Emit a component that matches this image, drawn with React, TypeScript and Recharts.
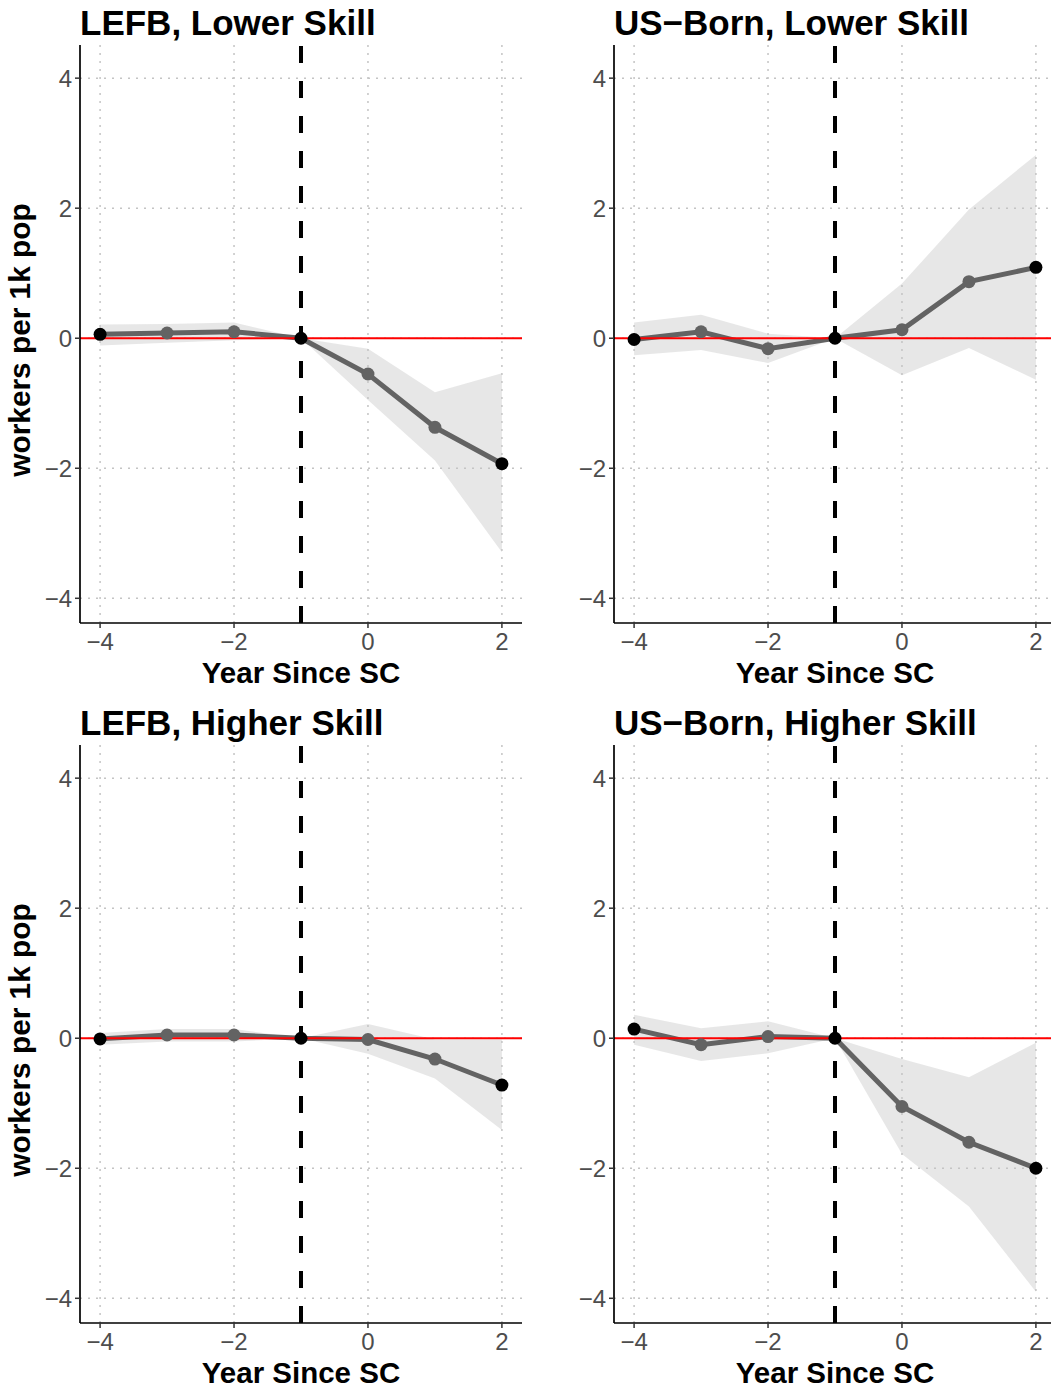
import React from "react";
import { ComposedChart, Line, Area, XAxis, YAxis, ReferenceLine } from "recharts";

const YEARS = [-4, -3, -2, -1, 0, 1, 2];
const X_TICKS = [-4, -2, 0, 2];
const Y_TICKS = [-4, -2, 0, 2, 4];
const X_DOMAIN = [-4.3, 2.3];
const Y_DOMAIN = [-4.38, 4.51];

// LEFB, Lower Skill
const LEFB_LOW_EST = [0.06, 0.08, 0.1, 0, -0.55, -1.37, -1.93];
const LEFB_LOW_LO = [-0.11, -0.07, -0.03, 0, -0.95, -1.88, -3.29];
const LEFB_LOW_HI = [0.21, 0.22, 0.24, 0, -0.16, -0.83, -0.54];

// US-Born, Lower Skill
const US_LOW_EST = [-0.02, 0.1, -0.16, 0, 0.13, 0.87, 1.09];
const US_LOW_LO = [-0.26, -0.18, -0.38, 0, -0.57, -0.15, -0.64];
const US_LOW_HI = [0.24, 0.36, 0.07, 0, 0.84, 1.98, 2.82];

// LEFB, Higher Skill
const LEFB_HIGH_EST = [-0.01, 0.05, 0.05, 0, -0.02, -0.32, -0.72];
const LEFB_HIGH_LO = [-0.1, -0.05, -0.05, 0, -0.24, -0.62, -1.41];
const LEFB_HIGH_HI = [0.08, 0.14, 0.14, 0, 0.22, -0.02, -0.02];

// US-Born, Higher Skill
const US_HIGH_EST = [0.14, -0.1, 0.025, 0, -1.05, -1.6, -2.0];
const US_HIGH_LO = [-0.1, -0.35, -0.23, 0, -1.78, -2.59, -3.9];
const US_HIGH_HI = [0.36, 0.155, 0.26, 0, -0.32, -0.6, -0.07];

const FONT = "'Liberation Sans', Arial, Helvetica, sans-serif";
const BLACK_DOTS = [0, 3, 6];
const minus = (v: number) => String(v).replace("-", "\u2212");

const tickStyle = { fontSize: 24, fill: "#4d4d4d", fontFamily: FONT };

const Dot = (p: any) => {
  if (p.cx == null || p.cy == null) return null;
  const fill = BLACK_DOTS.includes(p.index) ? "#000" : "#636363";
  return <circle key={`d-${p.index}`} cx={p.cx} cy={p.cy} r={6.5} fill={fill} stroke="none" />;
};

const YLabel = (props: any) => {
  const vb = props.viewBox || { x: 0, y: 45, width: 80, height: 578 };
  const x = vb.x + 30;
  const y = vb.y + vb.height / 2 + 6;
  return (
    <text x={x} y={y} transform={`rotate(-90, ${x}, ${y})`} textAnchor="middle"
      style={{ fontSize: 29.8, fontWeight: 700, fontFamily: FONT, fill: "#000" }}>
      workers per 1k pop
    </text>
  );
};

const XLabel = (props: any) => {
  const vb = props.viewBox || { x: 80, y: 623, width: 442, height: 70 };
  return (
    <text x={vb.x + vb.width / 2} y={vb.y + 60} textAnchor="middle"
      style={{ fontSize: 29.5, fontWeight: 700, fontFamily: FONT, fill: "#000" }}>
      Year Since SC
    </text>
  );
};

interface PanelProps {
  title: string;
  est: number[];
  lo: number[];
  hi: number[];
  left: number;
  top: number;
  yLabel: boolean;
}

const Panel = ({ title, est, lo, hi, left, top, yLabel }: PanelProps) => {
  const data = YEARS.map((year, i) => ({ year, est: est[i], band: [lo[i], hi[i]] }));
  return (
    <div style={{ position: "absolute", left, top, width: 530, height: 693 }}>
      <div style={{ position: "absolute", left: 80, top: 5, fontFamily: FONT, fontWeight: 700, fontSize: 35, lineHeight: "35px", whiteSpace: "nowrap", color: "#000" }}>
        {title}
      </div>
      <ComposedChart width={530} height={693} data={data} margin={{ top: 45, right: 8, bottom: 0, left: 0 }}>
        <XAxis type="number" dataKey="year" domain={X_DOMAIN} ticks={X_TICKS} allowDataOverflow
          height={70} tickSize={5} tickMargin={5} tick={tickStyle} tickFormatter={minus}
          axisLine={{ stroke: "#000", strokeWidth: 1.7 }} tickLine={{ stroke: "#333", strokeWidth: 1.5 }}
          label={XLabel} />
        <YAxis type="number" domain={Y_DOMAIN} ticks={Y_TICKS} allowDataOverflow
          width={80} tickSize={5} tickMargin={3} tick={tickStyle} tickFormatter={minus}
          axisLine={{ stroke: "#000", strokeWidth: 1.7 }} tickLine={{ stroke: "#333", strokeWidth: 1.5 }}
          label={yLabel ? YLabel : undefined} />
        {/* dotted grid at the major breaks */}
        {X_TICKS.map((t) => (
          <ReferenceLine key={`gx${t}`} x={t} stroke="#c4c4c4" strokeWidth={1.5} strokeDasharray="2 6" />
        ))}
        {Y_TICKS.map((t) => (
          <ReferenceLine key={`gy${t}`} y={t} stroke="#c4c4c4" strokeWidth={1.5} strokeDasharray="2 6" />
        ))}
        <Area type="linear" dataKey="band" fill="#e4e4e4" fillOpacity={0.9} stroke="none" isAnimationActive={false} />
        <Line type="linear" dataKey="est" stroke="#636363" strokeWidth={5} dot={Dot} activeDot={false} isAnimationActive={false} />
        <ReferenceLine y={0} stroke="#ff0000" strokeWidth={2} />
        <ReferenceLine x={-1} stroke="#000" strokeWidth={4} strokeDasharray="17 18" />
      </ComposedChart>
    </div>
  );
};

export default function App() {
  return (
    <div style={{ position: "absolute", left: 0, top: 0, width: 1051, height: 1391, overflow: "hidden", background: "#fff" }}>
      <Panel title="LEFB, Lower Skill" est={LEFB_LOW_EST} lo={LEFB_LOW_LO} hi={LEFB_LOW_HI} left={0} top={0} yLabel />
      <Panel title={"US\u2212Born, Lower Skill"} est={US_LOW_EST} lo={US_LOW_LO} hi={US_LOW_HI} left={534} top={0} yLabel={false} />
      <Panel title="LEFB, Higher Skill" est={LEFB_HIGH_EST} lo={LEFB_HIGH_LO} hi={LEFB_HIGH_HI} left={0} top={700} yLabel />
      <Panel title={"US\u2212Born, Higher Skill"} est={US_HIGH_EST} lo={US_HIGH_LO} hi={US_HIGH_HI} left={534} top={700} yLabel={false} />
    </div>
  );
}
